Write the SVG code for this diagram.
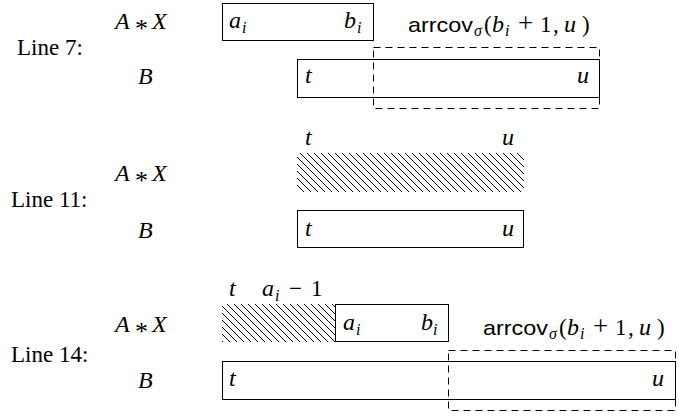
<svg xmlns="http://www.w3.org/2000/svg" width="679" height="416" viewBox="0 0 679 416">
<defs>
<pattern id="hatch" patternUnits="userSpaceOnUse" width="7" height="7">
<path d="M0,0 L7,7 M-1,6 L1,8 M6,-1 L8,1" stroke="#000" stroke-width="1"/>
</pattern>
</defs>
<style>
.box{fill:#fff;stroke:#000;stroke-width:1}
.dash{fill:none;stroke:#000;stroke-width:1;stroke-dasharray:7 5}
.hatch{fill:url(#hatch);stroke:none}
text{font-family:"Liberation Serif",serif;fill:#000}
.m{font-style:italic;font-size:24px}
.r{font-style:normal;font-size:23px}
.star{font-style:normal;font-size:26px}
.plus{font-style:normal;font-size:27px}
.lbl{font-size:23px}
.sf{font-family:"Liberation Sans",sans-serif;font-size:21px}
.sub{font-style:italic;font-size:16px}
</style>
<rect width="679" height="416" fill="#fff"/>

<g id="row7-labels">
<text class="m" x="115" y="29">A</text>
<text class="star" x="135" y="37">*</text>
<text class="m" x="152" y="29">X</text>
<text class="lbl" x="17" y="55">Line 7:</text>
<text class="m" x="138" y="84">B</text>
</g>
<g id="row7-ax">
<rect class="box" x="222.5" y="3.5" width="151" height="37"/>
<text class="m" x="229" y="28">a</text><text class="sub" x="242" y="33">i</text>
<text class="m" x="344" y="28">b</text><text class="sub" x="357" y="33">i</text>
</g>
<g id="row7-b">
<rect class="box" x="297.5" y="59.5" width="302" height="38"/>
<text class="m" x="305" y="83">t</text>
<text class="m" x="577" y="83">u</text>
</g>
<g id="row7-arrcov">
<rect class="dash" x="373.5" y="47.5" width="226" height="61"/>
<g transform="translate(408,32)">
<text class="sf" x="0" y="0" textLength="65" lengthAdjust="spacingAndGlyphs">arrcov</text>
<text class="sub" x="66" y="4">σ</text>
<text class="r" x="76" y="0">(</text>
<text class="m" x="84" y="0">b</text><text class="sub" x="97" y="4">i</text>
<text class="plus" x="110" y="0">+</text>
<text class="r" x="132" y="0">1</text>
<text class="r" x="145" y="0">,</text>
<text class="m" x="156" y="0">u</text>
<text class="r" x="174" y="0">)</text>
</g>
</g>

<g id="row11-labels">
<text class="m" x="115" y="181">A</text>
<text class="star" x="135" y="189">*</text>
<text class="m" x="152" y="181">X</text>
<text class="lbl" x="11" y="207">Line 11:</text>
<text class="m" x="138" y="238">B</text>
</g>
<g id="row11-ax">
<rect class="hatch" x="297" y="153" width="227" height="39"/>
<text class="m" x="305" y="145">t</text>
<text class="m" x="502" y="145">u</text>
</g>
<g id="row11-b">
<rect class="box" x="297.5" y="210.5" width="226" height="37"/>
<text class="m" x="305" y="236">t</text>
<text class="m" x="502" y="236">u</text>
</g>

<g id="row14-labels">
<text class="m" x="115" y="332">A</text>
<text class="star" x="135" y="340">*</text>
<text class="m" x="152" y="332">X</text>
<text class="lbl" x="11" y="362">Line 14:</text>
<text class="m" x="138" y="388">B</text>
</g>
<g id="row14-hatch">
<rect class="hatch" x="222" y="304" width="113" height="38"/>
<text class="m" x="229" y="296">t</text>
<text class="m" x="262" y="296">a</text><text class="sub" x="275" y="301">i</text>
<text class="r" x="289" y="296">−</text>
<text class="r" x="311" y="296">1</text>
</g>
<g id="row14-ax">
<rect class="box" x="335.5" y="304.5" width="113" height="37"/>
<text class="m" x="343" y="330">a</text><text class="sub" x="356" y="335">i</text>
<text class="m" x="421" y="330">b</text><text class="sub" x="433" y="335">i</text>
</g>
<g id="row14-b">
<rect class="box" x="222.5" y="361.5" width="453" height="38"/>
<text class="m" x="229" y="386">t</text>
<text class="m" x="652" y="386">u</text>
</g>
<g id="row14-arrcov">
<rect class="dash" x="448.5" y="350.5" width="227" height="60"/>
<g transform="translate(483,335)">
<text class="sf" x="0" y="0" textLength="65" lengthAdjust="spacingAndGlyphs">arrcov</text>
<text class="sub" x="66" y="4">σ</text>
<text class="r" x="76" y="0">(</text>
<text class="m" x="84" y="0">b</text><text class="sub" x="97" y="4">i</text>
<text class="plus" x="110" y="0">+</text>
<text class="r" x="132" y="0">1</text>
<text class="r" x="145" y="0">,</text>
<text class="m" x="156" y="0">u</text>
<text class="r" x="174" y="0">)</text>
</g>
</g>
</svg>
